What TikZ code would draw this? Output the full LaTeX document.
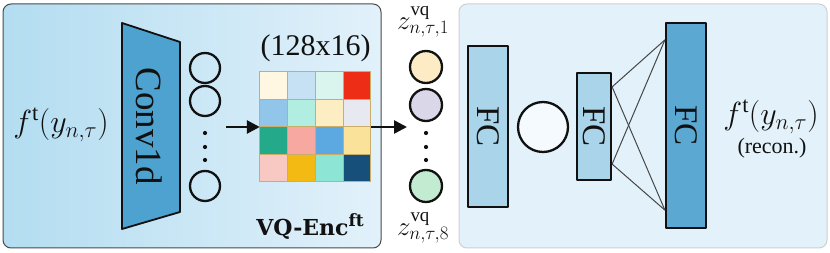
\RequirePackage{fix-cm}
\documentclass[tikz,border=0pt]{standalone}
\usepackage{fontspec}
\setmainfont{Liberation Serif}
\newfontfamily\vqfont{DejaVu Serif}
\usetikzlibrary{arrows.meta,calc,positioning}
\definecolor{vqInk}{HTML}{111111}
\definecolor{vqEdge}{HTML}{4A4A4A}
\definecolor{vqSkyL}{HTML}{B3DDF1}
\definecolor{vqSkyR}{HTML}{E2F1FA}
\definecolor{vqPanel}{HTML}{E3F2FA}
\definecolor{vqPanelEdge}{HTML}{CFCFCF}
\definecolor{vqConv}{HTML}{4EA2CF}
\definecolor{vqFCLight}{HTML}{AAD4EA}
\definecolor{vqFCDark}{HTML}{5BA8D2}
\definecolor{vqLink}{HTML}{454545}
\definecolor{vqGold}{HTML}{C9AE6A}
\definecolor{vqZa}{HTML}{FCEBC4}
\definecolor{vqZb}{HTML}{DAD8E8}
\definecolor{vqZc}{HTML}{C3EBD2}
\tikzset{
 vqpic/.style={line join=round,text=vqInk},
 panel/.style={rounded corners=8pt,line width=1pt},
 unit/.style={circle,draw=vqInk,line width=2.3pt,inner sep=0pt,minimum size=30pt},
 code/.style={unit,minimum size=32pt},
 dot/.style={circle,fill=vqInk,inner sep=0pt,minimum size=4.2pt},
 fcbox/.style={draw=vqInk,line width=2.2pt,inner sep=0pt},
 fclabel/.style={font=\fontsize{33}{33}\selectfont,rotate=-90},
 cellbox/.style={draw=vqGold,line width=.8pt},
 flow/.style={draw=vqInk,line width=2.6pt,-{Triangle[length=13pt,width=13pt]}},
 link/.style={draw=vqLink,line width=1pt},
 mathbig/.style={font=\fontsize{32}{32}\selectfont},
 zlabel/.style={font=\fontsize{27}{27}\selectfont}
}

\begin{document}
\begin{tikzpicture}[vqpic,x=1pt,y=-1pt]
 \useasboundingbox (0,0) rectangle (830,253);
 % encoder panel
 \shade[left color=vqSkyL,right color=vqSkyR,rounded corners=8pt] (3,4) rectangle (381,248);
 \draw[panel,draw=vqEdge] (3,4) rectangle (381,248);
 \node[mathbig] (fin) at (61,125) {$f^{\mathrm{t}}(y_{n,\tau})$};
 \draw[fill=vqConv,draw=vqInk,line width=1.8pt] (122,23) -- (180,42) -- (180,212) -- (122,229) -- cycle;
 \node[font=\fontsize{37}{37}\selectfont,rotate=-90] (conv) at (149,126) {Conv1d};
 \node[unit] (h1) at (205,68) {};
 \node[unit] (h2) at (205,101) {};
 \node[unit] (h3) at (205,186) {};
 \foreach \y in {133,147,160} \node[dot] at (205,\y) {};
 % codebook
 \node[minimum width=111pt,minimum height=110pt,inner sep=0pt] (book) at (315.5,127) {};
 \foreach \c [count=\i from 0] in {FFF7E1,C6E1F4,D9F5EE,EE2D17,
                                    92C5EA,B1EDE1,FCEEC2,E8E8F1,
                                    25A98B,F6A8A1,5BA9E0,FAE29B,
                                    F8C9C2,F2BA12,8DE5D5,174F7B}{
   \pgfmathtruncatemacro\row{\i/4}
   \pgfmathtruncatemacro\col{mod(\i,4)}
   \definecolor{cellfill}{HTML}{\c}
   \draw[cellbox,fill=cellfill] ($(book.north west)+(\col*27.75,\row*27.5)$) rectangle +(27.75,27.5);
 }
 \node[font=\fontsize{30}{30}\selectfont,inner sep=1pt,above=9pt of book] (dims) {(128x16)};
 \node[font=\vqfont\bfseries\fontsize{22}{22}\selectfont,anchor=base] (enctitle) at (310,236)
   {VQ-Enc\raisebox{.42em}{\fontsize{17}{17}\selectfont ft}};
 \coordinate (encout) at (226,127);
 \coordinate (zin) at (407,127);
 \draw[flow] (encout) -- (book.west);
 \draw[flow] (book.east) -- (zin);
 % codes
 \node[code,fill=vqZa] (z1) at (426,67) {};
 \node[code,fill=vqZb] (z2) at (426,105) {};
 \node[code,fill=vqZc] (z8) at (426,186) {};
 \foreach \y in {133,147,160} \node[dot] at (426,\y) {};
 \node[zlabel] (zt) at (423,22) {$z^{\mathrm{vq}}_{n,\tau,1}$};
 \node[zlabel] (zb) at (423,228) {$z^{\mathrm{vq}}_{n,\tau,8}$};
 % decoder panel
 \draw[panel,draw=vqPanelEdge,fill=vqPanel] (459,4) rectangle (827,248);
 \node[fcbox,fill=vqFCLight,minimum width=40pt,minimum height=161pt] (fc1) at (488,126.5) {};
 \node[fclabel] at (fc1) {FC};
 \node[unit,fill=vqPanel!40!white,minimum size=50pt] (mid) at (543,127) {};
 \node[fcbox,fill=vqFCLight,minimum width=34pt,minimum height=107pt] (fc2) at (594,126.5) {};
 \node[fclabel] at (fc2) {FC};
 \node[fcbox,fill=vqFCDark,minimum width=40pt,minimum height=205pt] (fc3) at (686,125.5) {};
 \node[fclabel] at (fc3) {FC};
 \coordinate (o1) at ($(fc2.north east)+(0,15)$);
 \coordinate (o2) at ($(fc2.south east)+(0,-17)$);
 \coordinate (i1) at ($(fc3.north west)+(0,18)$);
 \coordinate (i2) at ($(fc3.south west)+(0,-19)$);
 \foreach \a in {o1,o2} \foreach \b in {i1,i2} \draw[link] (\a) -- (\b);
 \node[mathbig] (fout) at (771,117) {$f^{\mathrm{t}}(y_{n,\tau})$};
 \node[font=\fontsize{22}{22}\selectfont] (recon) at (772,148) {(recon.)};
\end{tikzpicture}
\end{document}
